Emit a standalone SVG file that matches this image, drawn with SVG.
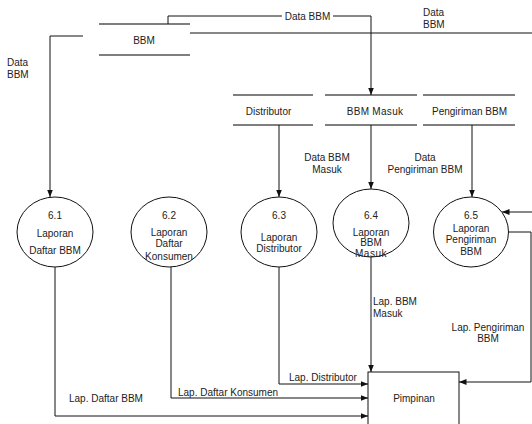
<svg xmlns="http://www.w3.org/2000/svg" width="532" height="424" viewBox="0 0 532 424">
  <style>
    text { font-family: "Liberation Sans", Arial, sans-serif; font-size: 10px; fill: #222; }
    .mid { text-anchor: middle; }
    .store { stroke: #555; stroke-width: 1.3; fill: none; }
    .proc { stroke: #111; stroke-width: 1; fill: #fff; }
    .flow { stroke: #111; stroke-width: 1; fill: none; }
    .arr { marker-end: url(#ah); }
    .box { stroke: #111; stroke-width: 1; fill: #fff; }
  </style>
  <defs>
    <marker id="ah" markerUnits="userSpaceOnUse" markerWidth="8" markerHeight="8" viewBox="0 0 8 8" refX="7.5" refY="4" orient="auto">
      <path d="M0,1 L7.5,4 L0,7 Z" fill="#111"/>
    </marker>
  </defs>

  <!-- data stores -->
  <g id="store-bbm">
    <line class="store" x1="99" y1="24" x2="190" y2="24"/>
    <line class="store" x1="99" y1="55" x2="190" y2="55"/>
    <text class="mid" x="144" y="43.5">BBM</text>
  </g>
  <g id="store-distributor">
    <line class="store" x1="233" y1="95" x2="313" y2="95"/>
    <line class="store" x1="233" y1="125" x2="313" y2="125"/>
    <text class="mid" x="268.5" y="114.5">Distributor</text>
  </g>
  <g id="store-bbm-masuk">
    <line class="store" x1="325" y1="95" x2="417" y2="95"/>
    <line class="store" x1="325" y1="125" x2="417" y2="125"/>
    <text class="mid" x="375" y="114.5" letter-spacing="0.3">BBM Masuk</text>
  </g>
  <g id="store-pengiriman">
    <line class="store" x1="423" y1="95" x2="515" y2="95"/>
    <line class="store" x1="423" y1="125" x2="515" y2="125"/>
    <text class="mid" x="469.5" y="114.5">Pengiriman BBM</text>
  </g>

  <!-- connectors -->
  <g id="connectors">
    <path class="flow" d="M168,24 V16 H282"/>
    <path class="flow arr" d="M333,16 H371 V95"/>
    <path class="flow" d="M190,33 H532"/>
    <path class="flow arr" d="M83,36 H50 V197"/>
    <path class="flow arr" d="M279,125 V197"/>
    <path class="flow arr" d="M371,125 V189"/>
    <path class="flow arr" d="M472,125 V197"/>
    <path class="flow arr" d="M532,212 H502"/>
    <path class="flow arr" d="M508,232 H531 V382 H459"/>
    <path class="flow arr" d="M371,257 V372"/>
    <path class="flow arr" d="M279,267 V384 H368"/>
    <path class="flow arr" d="M171,267 V398 H368"/>
    <path class="flow arr" d="M55,267 V416 H368"/>

    <text class="mid" x="307.5" y="19.5">Data BBM</text>
    <text x="423" y="15.5">Data</text>
    <text x="423" y="27.5">BBM</text>
    <text x="7" y="65.5">Data</text>
    <text x="7" y="77.5">BBM</text>
    <text class="mid" x="327" y="160.5">Data BBM</text>
    <text class="mid" x="327" y="172.5">Masuk</text>
    <text class="mid" x="425" y="160.5">Data</text>
    <text class="mid" x="425" y="172.5">Pengiriman BBM</text>
    <text x="373" y="304.5">Lap. BBM</text>
    <text x="373" y="316.5">Masuk</text>
    <text class="mid" x="488" y="330.5">Lap. Pengiriman</text>
    <text class="mid" x="488" y="341.5">BBM</text>
    <text x="289" y="380.5">Lap. Distributor</text>
    <text x="178" y="395.5">Lap. Daftar Konsumen</text>
    <text x="69" y="401.5">Lap. Daftar BBM</text>
  </g>

  <!-- processes -->
  <g id="p6-1">
    <ellipse class="proc" cx="55" cy="232" rx="38" ry="35"/>
    <text class="mid" x="55" y="218.5">6.1</text>
    <text class="mid" x="55" y="236.5">Laporan</text>
    <text class="mid" x="55" y="253.5">Daftar BBM</text>
  </g>
  <g id="p6-2">
    <ellipse class="proc" cx="169" cy="232" rx="38" ry="35"/>
    <text class="mid" x="169" y="218.5">6.2</text>
    <text class="mid" x="169" y="235.5">Laporan</text>
    <text class="mid" x="169" y="246.5">Daftar</text>
    <text class="mid" x="169" y="259.5">Konsumen</text>
  </g>
  <g id="p6-3">
    <ellipse class="proc" cx="279" cy="232" rx="38" ry="35"/>
    <text class="mid" x="279" y="218.5">6.3</text>
    <text class="mid" x="279" y="240.5">Laporan</text>
    <text class="mid" x="279" y="251.5">Distributor</text>
  </g>
  <g id="p6-4">
    <ellipse class="proc" cx="371" cy="223" rx="38" ry="34"/>
    <text class="mid" x="371" y="218.5">6.4</text>
    <text class="mid" x="371" y="235.5">Laporan</text>
    <text class="mid" x="371" y="245.5">BBM</text>
    <text class="mid" x="371" y="256.5" letter-spacing="0.5">Masuk</text>
  </g>
  <g id="p6-5">
    <ellipse class="proc" cx="471" cy="232" rx="37.5" ry="35"/>
    <text class="mid" x="471" y="218.5">6.5</text>
    <text class="mid" x="471" y="231.5">Laporan</text>
    <text class="mid" x="471" y="242.5">Pengiriman</text>
    <text class="mid" x="471" y="254.5">BBM</text>
  </g>

  <!-- external entity -->
  <g id="pimpinan">
    <rect class="box" x="368" y="372" width="91" height="60"/>
    <text class="mid" x="414" y="401.5">Pimpinan</text>
  </g>
</svg>
